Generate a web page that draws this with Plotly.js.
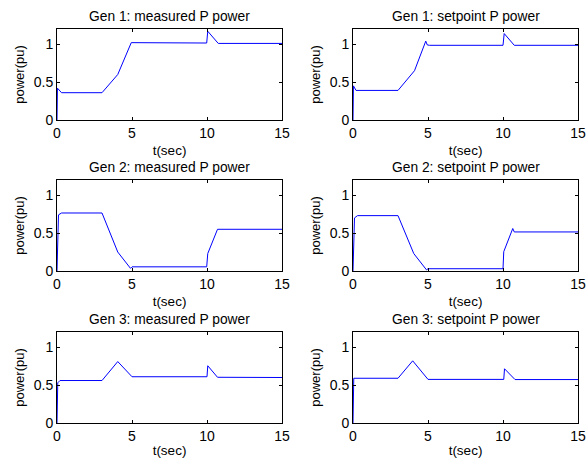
<!DOCTYPE html>
<html>
<head>
<meta charset="utf-8">
<script src="https://cdn.plot.ly/plotly-3.0.1.min.js"></script>
<style>html,body{margin:0;padding:0;background:#fff;}#chart{width:586px;height:458px;}</style>
</head>
<body>
<div id="chart"></div>
<script>
// ---- Data ----
var gen1MeasT = [0, 0.03, 0.3, 3.0, 4.05, 4.95, 9.98, 10.05, 10.75, 15];
var gen1MeasP = [0, 0.42, 0.36, 0.36, 0.60, 1.02, 1.015, 1.17, 1.01, 1.01];

var gen1SetT = [0, 0.03, 0.2, 3.0, 4.1, 4.85, 4.95, 5.1, 10.0, 10.08, 10.75, 15];
var gen1SetP = [0, 0.45, 0.39, 0.39, 0.65, 1.04, 0.99, 0.985, 0.985, 1.14, 0.985, 0.985];

var gen2MeasT = [0, 0.1, 0.3, 3.0, 4.05, 4.9, 5.0, 9.98, 10.05, 10.7, 15];
var gen2MeasP = [0, 0.74, 0.765, 0.765, 0.25, 0.035, 0.055, 0.055, 0.23, 0.55, 0.55];

var gen2SetT = [0, 0.1, 0.3, 3.0, 4.05, 4.9, 5.0, 10.0, 10.05, 10.65, 10.75, 15];
var gen2SetP = [0, 0.70, 0.73, 0.73, 0.23, 0.015, 0.03, 0.03, 0.255, 0.56, 0.515, 0.515];

var gen3MeasT = [0, 0.05, 0.2, 3.0, 4.05, 5.0, 10.0, 10.05, 10.7, 15];
var gen3MeasP = [0, 0.53, 0.56, 0.56, 0.81, 0.61, 0.61, 0.755, 0.603, 0.60];

var gen3SetT = [0, 0.05, 3.0, 3.98, 5.0, 10.05, 10.1, 10.8, 15];
var gen3SetP = [0, 0.59, 0.59, 0.82, 0.575, 0.575, 0.715, 0.573, 0.573];

var panelTitles = ["Gen 1: measured P power", "Gen 1: setpoint P power",
                   "Gen 2: measured P power", "Gen 2: setpoint P power",
                   "Gen 3: measured P power", "Gen 3: setpoint P power"];
var xTickVals = [0, 5, 10, 15];
var yTickVals = [0, 0.5, 1];
var xLabel = "t(sec)";
var yLabel = "power(pu)";

var seriesT = [gen1MeasT, gen1SetT, gen2MeasT, gen2SetT, gen3MeasT, gen3SetT];
var seriesP = [gen1MeasP, gen1SetP, gen2MeasP, gen2SetP, gen3MeasP, gen3SetP];

// ---- Layout geometry ----
var W = 586, H = 458;
var colPx = [[57, 282], [353, 578]];
var rowPx = [[29, 120], [180, 271], [332, 423]];
var font = "Liberation Sans, Arial, sans-serif";

var traces = [];
var layout = {
  width: W, height: H,
  margin: {l: 0, r: 0, t: 0, b: 0},
  paper_bgcolor: "#fff", plot_bgcolor: "#fff",
  showlegend: false,
  font: {family: font, size: 13, color: "#000"},
  annotations: []
};

for (var i = 0; i < 6; i++) {
  var r = Math.floor(i / 2), c = i % 2;
  var n = i + 1;
  var xa = "x" + (n === 1 ? "" : n), ya = "y" + (n === 1 ? "" : n);
  traces.push({
    x: seriesT[i], y: seriesP[i], type: "scatter", mode: "lines",
    line: {color: "#0000ff", width: 1},
    xaxis: xa, yaxis: ya, hoverinfo: "skip"
  });
  var xd = [colPx[c][0] / W, colPx[c][1] / W];
  var yd = [1 - rowPx[r][1] / H, 1 - rowPx[r][0] / H];
  var common = {
    showgrid: false, zeroline: false, showline: true, linecolor: "#000", linewidth: 1,
    mirror: "ticks", ticks: "inside", ticklen: 3, tickcolor: "#000", tickwidth: 1,
    tickfont: {family: font, size: 14, color: "#000"}, fixedrange: true
  };
  layout["xaxis" + (n === 1 ? "" : n)] = Object.assign({}, common, {
    domain: xd, range: [0, 15], tickvals: xTickVals, anchor: ya,
    title: {text: xLabel, font: {family: font, size: 13.5, color: "#000"}, standoff: 5}
  });
  layout["yaxis" + (n === 1 ? "" : n)] = Object.assign({}, common, {
    domain: yd, range: [0, 1.2], tickvals: yTickVals, anchor: xa,
    title: {text: yLabel, font: {family: font, size: 13, color: "#000"}, standoff: 6}
  });
  layout.annotations.push({
    text: panelTitles[i], xref: "paper", yref: "paper",
    x: (xd[0] + xd[1]) / 2, y: yd[1], xanchor: "center", yanchor: "bottom",
    yshift: 3, showarrow: false, font: {family: font, size: 13.8, color: "#000"}
  });
}

Plotly.newPlot("chart", traces, layout, {staticPlot: true});
</script>
</body>
</html>
